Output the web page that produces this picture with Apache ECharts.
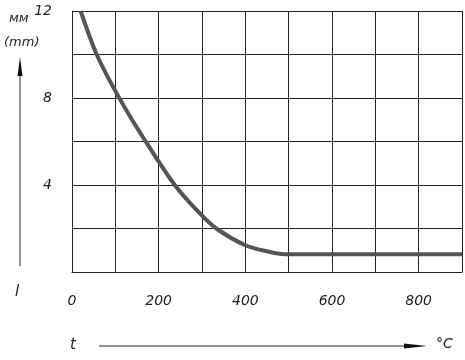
<!DOCTYPE html>
<html><head><meta charset="utf-8">
<script src="https://cdn.jsdelivr.net/npm/echarts@6/dist/echarts.min.js"></script>
<style>html,body{margin:0;padding:0;background:#fff}#c{width:465px;height:360px}</style>
</head><body><div id="c"></div>
<script>
var temps = [20, 57, 109, 170, 237, 290, 333, 400, 450, 490, 600, 700, 800, 900];
var lengths = [12, 10, 8, 6, 4, 2.8, 2, 1.23, 0.95, 0.82, 0.82, 0.82, 0.82, 0.82];
var xTickLabels = ['0', '200', '400', '600', '800'];
var yTickLabels = ['4', '8', '12'];
var data = temps.map(function(t, i){ return [t, lengths[i]]; });
var font = {fontFamily: 'DejaVu Sans', fontStyle: 'italic', fontSize: 14, color: '#222'};
var chart = echarts.init(document.getElementById('c'));
chart.setOption({
  animation: false,
  grid: {left: 72, right: 3, top: 11, bottom: 88},
  xAxis: {
    type: 'value', min: 0, max: 900, interval: 100,
    axisLine: {show: true, lineStyle: {color: '#222', width: 1}},
    axisTick: {show: false},
    splitLine: {show: true, lineStyle: {color: '#222', width: 1}},
    axisLabel: Object.assign({margin: 22, showMaxLabel: true, formatter: function(v){ var s = String(v); return xTickLabels.indexOf(s) >= 0 ? s : ''; }}, font)
  },
  yAxis: {
    type: 'value', min: 0, max: 12, interval: 2,
    axisLine: {show: true, lineStyle: {color: '#222', width: 1}},
    axisTick: {show: false},
    splitLine: {show: true, lineStyle: {color: '#222', width: 1}},
    axisLabel: Object.assign({margin: 20, formatter: function(v){ var s = String(v); return yTickLabels.indexOf(s) >= 0 ? s : ''; }}, font)
  },
  series: [{
    type: 'line', data: data, smooth: 0.3, symbol: 'none',
    lineStyle: {color: '#555', width: 4}
  }],
  graphic: [
    {type: 'text', left: 9, top: 12, style: {text: 'мм', fill: '#222', font: 'italic 13px DejaVu Sans'}},
    {type: 'text', left: 4, top: 36, style: {text: '(mm)', fill: '#222', font: 'italic 13px DejaVu Sans'}},
    {type: 'line', shape: {x1: 20, y1: 72, x2: 20, y2: 266}, style: {stroke: '#222', lineWidth: 1}},
    {type: 'polygon', shape: {points: [[20, 57], [17.5, 76], [22.5, 76]]}, style: {fill: '#111'}},
    {type: 'text', left: 15, top: 285, style: {text: 'l', fill: '#222', font: 'italic 15px DejaVu Sans'}},
    {type: 'text', left: 70, top: 338, style: {text: 't', fill: '#222', font: 'italic 15px DejaVu Sans'}},
    {type: 'line', shape: {x1: 99, y1: 346, x2: 410, y2: 346}, style: {stroke: '#222', lineWidth: 1}},
    {type: 'polygon', shape: {points: [[427, 346], [404, 343.5], [404, 348.5]]}, style: {fill: '#111'}},
    {type: 'text', left: 436, top: 337, style: {text: '°C', fill: '#222', font: 'italic 14px DejaVu Sans'}}
  ]
});
</script></body></html>
